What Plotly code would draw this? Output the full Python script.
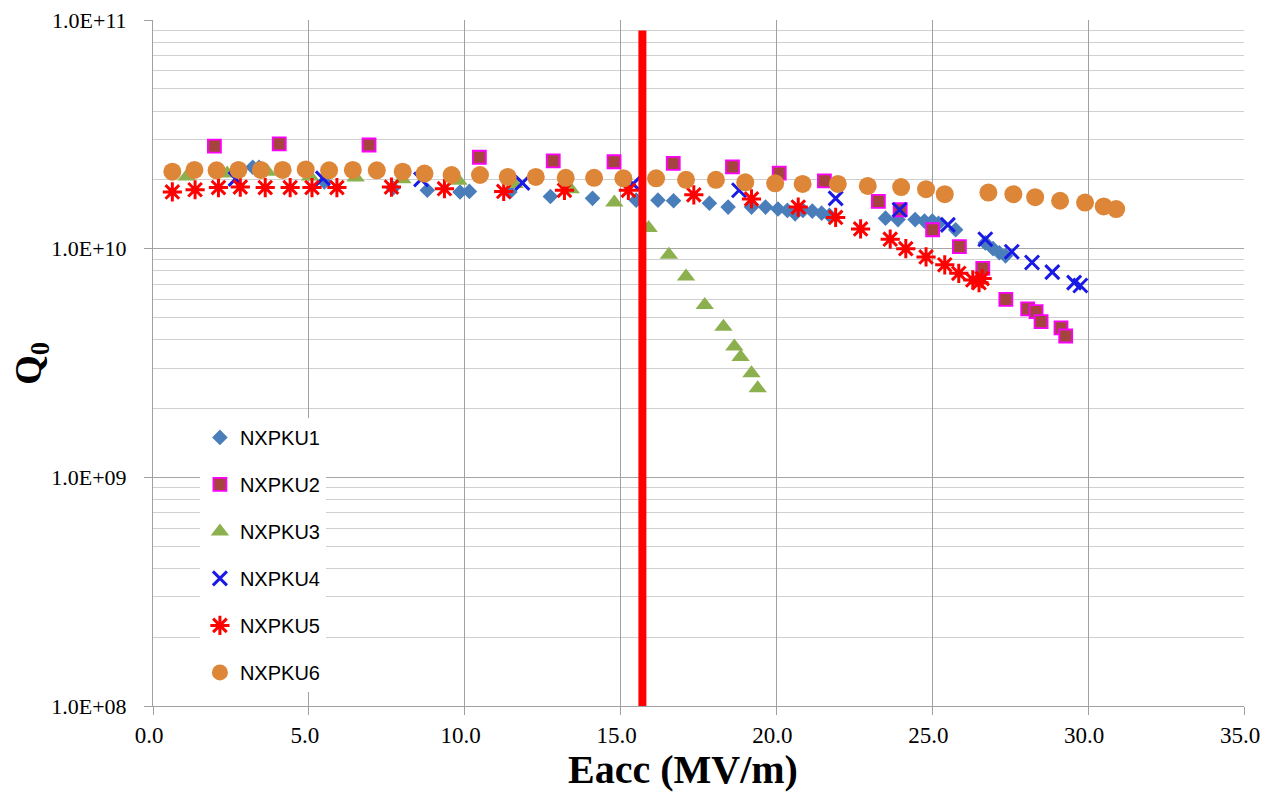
import numpy as np
import plotly.graph_objects as go

# ---- data (Eacc in MV/m, Q0 in units of 1e10) ----
nx1_x = [3.2, 3.4, 5.5, 7.7, 8.8, 9.85, 10.15, 11.45, 12.75, 14.1, 15.5, 16.2, 16.7, 17.85, 18.45,
         19.2, 19.65, 20.05, 20.35, 20.6, 20.85, 21.15, 21.45, 21.7, 23.5, 23.9, 24.45, 24.75, 25.0,
         25.2, 25.75, 26.7, 26.95, 27.15, 27.35]
nx1_q = [2.27, 2.27, 1.96, 1.84, 1.80, 1.77, 1.78, 1.77, 1.69, 1.66, 1.63, 1.63, 1.62, 1.58, 1.52,
         1.52, 1.52, 1.49, 1.47, 1.42, 1.47, 1.46, 1.43, 1.40, 1.36, 1.34, 1.34, 1.32, 1.32,
         1.29, 1.21, 1.06, 1.00, 0.96, 0.93]

nx2_x = [1.97, 4.05, 6.93, 10.47, 12.84, 14.79, 16.69, 18.59, 20.09, 21.54, 23.27, 23.97, 25.01,
         25.87, 26.62, 27.36, 28.06, 28.33, 28.49, 29.13, 29.28]
nx2_q = [2.81, 2.87, 2.84, 2.51, 2.42, 2.40, 2.36, 2.28, 2.14, 1.98, 1.61, 1.48, 1.21,
         1.02, 0.82, 0.60, 0.545, 0.53, 0.48, 0.45, 0.415]

nx3_x = [1.08, 2.38, 3.67, 5.04, 6.5, 8.0, 9.8, 11.6, 13.4, 14.8, 15.9, 16.55, 17.1, 17.7, 18.3,
         18.65, 18.85, 19.2, 19.4]
nx3_q = [2.07, 2.13, 2.17, 2.07, 2.05, 2.01, 1.98, 1.92, 1.82, 1.59, 1.23, 0.94, 0.755, 0.567, 0.456,
         0.373, 0.336, 0.285, 0.245]

nx4_x = [2.65, 5.45, 8.6, 11.85, 15.4, 18.8, 21.9, 23.95, 25.5, 26.7, 27.55, 28.2, 28.85, 29.55, 29.75]
nx4_q = [2.02, 2.03, 2.01, 1.94, 1.92, 1.80, 1.66, 1.48, 1.27, 1.10, 0.97, 0.87, 0.79, 0.71, 0.69]

nx5_x = [0.62, 1.35, 2.1, 2.8, 3.6, 4.4, 5.1, 5.9, 7.65, 9.35, 11.25, 13.2, 15.25, 17.35, 19.2,
         20.7, 21.9, 22.7, 23.65, 24.15, 24.8, 25.4, 25.85, 26.3, 26.5, 26.6]
nx5_q = [1.77, 1.81, 1.85, 1.86, 1.85, 1.85, 1.85, 1.85, 1.86, 1.83, 1.78, 1.80, 1.80, 1.72, 1.65,
         1.52, 1.37, 1.22, 1.10, 1.00, 0.92, 0.85, 0.78, 0.73, 0.71, 0.74]

nx6_x = [0.62, 1.33, 2.04, 2.74, 3.46, 4.16, 4.9, 5.65, 6.41, 7.18, 8.01, 8.71, 9.58, 10.49, 11.38,
         12.28, 13.24, 14.15, 15.09, 16.14, 17.1, 18.06, 19.0, 19.96, 20.84, 21.97, 22.93, 24.0,
         24.8, 25.4, 26.8, 27.6, 28.3, 29.1, 29.9, 30.5, 30.9]
nx6_q = [2.17, 2.21, 2.20, 2.21, 2.21, 2.21, 2.22, 2.20, 2.21, 2.20, 2.17, 2.13, 2.10, 2.10, 2.06,
         2.06, 2.04, 2.04, 2.03, 2.03, 2.00, 2.00, 1.95, 1.93, 1.92, 1.92, 1.88, 1.86,
         1.82, 1.73, 1.76, 1.73, 1.68, 1.62, 1.59, 1.53, 1.49]

series_names = ["NXPKU1", "NXPKU2", "NXPKU3", "NXPKU4", "NXPKU5", "NXPKU6"]

limit_x = 15.7          # vertical red reference line (MV/m)
limit_q = [1e8, 9e10]   # its vertical extent

x_ticks = [0, 5, 10, 15, 20, 25, 30, 35]
y_ticks = [1e8, 1e9, 1e10, 1e11]
y_ticktext = ["1.0E+08", "1.0E+09", "1.0E+10", "1.0E+11"]

SCALE = 1e10
minor_vals = [m * 10 ** k for k in (8, 9, 10) for m in range(2, 10)]

styles = [
    dict(symbol="diamond", size=12, color="#4A7EBB", line=dict(width=0)),
    dict(symbol="square", size=13, color="#A5443F", line=dict(width=1.8, color="#FF00FF")),
    dict(symbol="triangle-up", size=16, color="#8DB04F", line=dict(width=0)),
    dict(symbol="x-thin", size=14, color="#1A1AE6", line=dict(width=3, color="#1A1AE6")),
    dict(symbol="asterisk-open", size=16, color="#FF0000", line=dict(width=3, color="#FF0000")),
    dict(symbol="circle", size=18, color="#DE8638", line=dict(width=0)),
]

xs = [nx1_x, nx2_x, nx3_x, nx4_x, nx5_x, nx6_x]
qs = [nx1_q, nx2_q, nx3_q, nx4_q, nx5_q, nx6_q]

fig = go.Figure()
for name, x, q, st in zip(series_names, xs, qs, styles):
    fig.add_trace(go.Scatter(
        x=x, y=np.array(q) * SCALE, mode="markers", name=name,
        legendgroup=name, marker=st,
    ))

fig.add_trace(go.Scatter(
    x=[limit_x, limit_x], y=limit_q, mode="lines",
    line=dict(color="#FF0000", width=8), showlegend=False, hoverinfo="skip",
))

serif = "Liberation Serif, Times New Roman, serif"

fig.update_layout(
    width=1262, height=792,
    margin=dict(l=153, r=18, t=20, b=86),
    paper_bgcolor="white", plot_bgcolor="white",
    showlegend=True,
    legend=dict(
        x=0.043, y=0.42, xanchor="left", yanchor="top",
        bgcolor="white", borderwidth=0,
        font=dict(family="Liberation Sans, Arial, sans-serif", size=20, color="#000000"),
        tracegroupgap=18, itemsizing="trace",
    ),
    xaxis=dict(
        range=[0, 35], tickvals=x_ticks, tickformat=".1f", automargin=False,
        showgrid=True, gridcolor="#A0A0A0", gridwidth=1,
        showline=True, linecolor="#A0A0A0", linewidth=1,
        ticks="outside", ticklen=8, tickcolor="#A0A0A0", ticklabelshift=-4,
        tickfont=dict(family=serif, size=23, color="#000000"),
        zeroline=False, ticklabeloverflow="allow",
    ),
    yaxis=dict(
        type="log", range=[8, 11], tickvals=y_ticks, ticktext=y_ticktext, automargin=False,
        showgrid=True, gridcolor="#A6A6A6", gridwidth=1,
        showline=True, linecolor="#A0A0A0", linewidth=1,
        ticks="outside", ticklen=8, tickcolor="#A0A0A0", ticklabelstandoff=13,
        tickfont=dict(family=serif, size=22, color="#000000"),
        zeroline=False, ticklabeloverflow="allow",
        minor=dict(tickvals=minor_vals, showgrid=True, gridcolor="#CFCFCF", gridwidth=1, ticks=""),
    ),
    annotations=[
        dict(text="<b>Eacc (MV/m)</b>", xref="paper", yref="paper", x=0.486, y=-0.092,
             xanchor="center", yanchor="middle", showarrow=False,
             font=dict(family=serif, size=40, color="#000000")),
        dict(text="<b>Q<sub>0</sub></b>", xref="paper", yref="paper", x=-0.112, y=0.5,
             xanchor="center", yanchor="middle", showarrow=False, textangle=-90,
             font=dict(family=serif, size=38, color="#000000")),
    ],
)

# remove the default 8px page margin so the figure fills the window exactly
fig.write_html(
    "out.html",
    config={"displayModeBar": False},
    post_script="document.body.style.margin='0';document.body.style.overflow='hidden';",
)
